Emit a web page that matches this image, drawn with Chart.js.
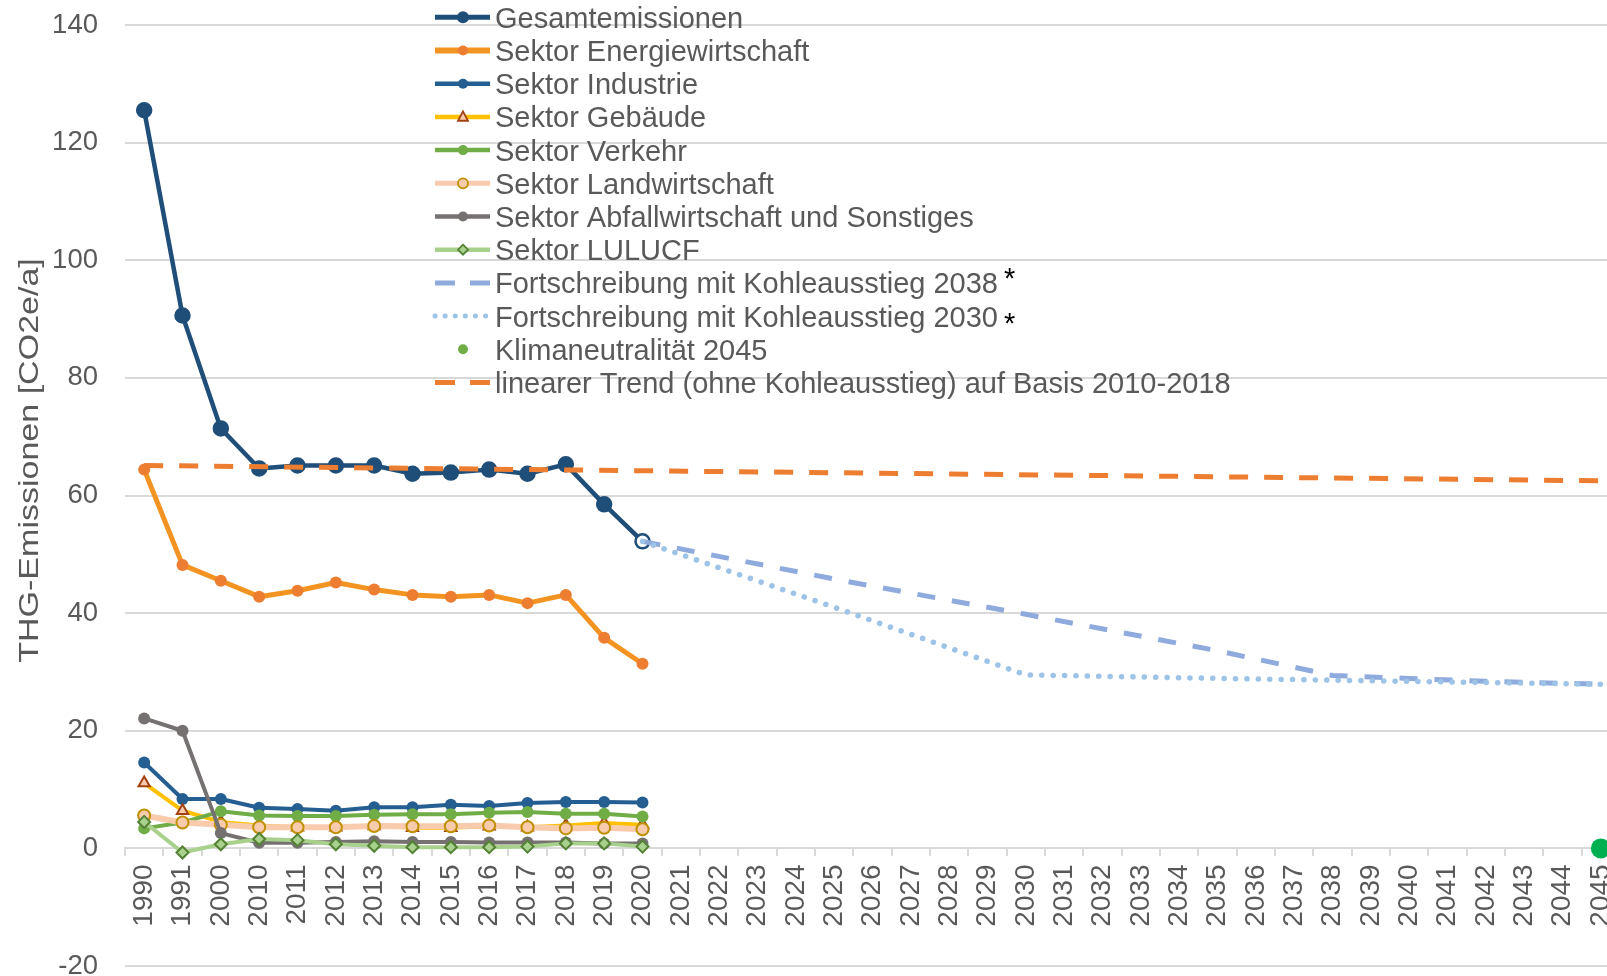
<!DOCTYPE html>
<html><head><meta charset="utf-8">
<script src="https://cdn.jsdelivr.net/npm/chart.js@4/dist/chart.umd.min.js"></script>
<style>
html,body{margin:0;padding:0;overflow:hidden;background:#fff;width:1607px;height:976px}
#wrap{position:absolute;left:0;top:0;width:1632px;height:976px}
canvas{display:block}
</style></head><body>
<div id="wrap"><canvas id="c" width="1632" height="976" style="width:1632px;height:976px"></canvas></div>
<script>
// ---- data ----
const categories = ['1990','1991','2000','2010','2011','2012','2013','2014','2015','2016','2017','2018','2019','2020',
  '2021','2022','2023','2024','2025','2026','2027','2028','2029','2030','2031','2032','2033','2034','2035','2036',
  '2037','2038','2039','2040','2041','2042','2043','2044','2045'];
const yTicks = [-20, 0, 20, 40, 60, 80, 100, 120, 140];
const yTitle = 'THG-Emissionen [CO2e/a]';

// 1990 .. 2020 (14 values)
const gesamt        = [125.5, 90.6, 71.4, 64.6, 65.1, 65.1, 65.1, 63.7, 63.9, 64.4, 63.7, 65.3, 58.5, 52.2];
const energie       = [64.4, 48.2, 45.5, 42.8, 43.8, 45.2, 44.0, 43.1, 42.8, 43.1, 41.7, 43.1, 35.8, 31.4];
const industrie     = [14.6, 8.4, 8.4, 6.9, 6.7, 6.4, 7.0, 7.0, 7.4, 7.2, 7.7, 7.9, 7.9, 7.8];
const gebaeude      = [11.1, 6.4, 4.5, 3.9, 3.6, 3.6, 3.8, 3.5, 3.5, 3.75, 3.6, 3.9, 4.3, 4.0];
const verkehr       = [3.4, 4.4, 6.3, 5.6, 5.5, 5.5, 5.7, 5.8, 5.8, 6.05, 6.2, 5.9, 5.9, 5.4];
const landwirtschaft= [5.6, 4.4, 4.0, 3.6, 3.6, 3.6, 3.8, 3.75, 3.75, 3.9, 3.6, 3.4, 3.5, 3.25];
const abfall        = [22.1, 20.0, 2.6, 0.95, 0.95, 1.1, 1.2, 1.1, 1.1, 1.0, 1.0, 1.0, 0.85, 0.85];
const lulucf        = [4.5, -0.7, 0.7, 1.6, 1.4, 0.7, 0.45, 0.2, 0.2, 0.2, 0.3, 0.85, 0.85, 0.3];

const fort2038Years  = ['2020','2025','2030','2035','2038','2040','2042','2045'];
const fort2038Values = [52.2, 45.8, 39.8, 33.6, 29.4, 28.9, 28.4, 27.9];
const fort2030Years  = ['2020','2025','2030','2035','2038','2045'];
const fort2030Values = [52.2, 41.0, 29.5, 28.9, 28.6, 27.9];
const klimaYears  = ['2045'];
const klimaValues = [0];
const trendYears  = ['1990','2045'];
const trendValues = [65.1, 62.5];

const FONT = "'Liberation Sans', Arial, sans-serif";
const TXT = '#595959';

function pts(xs, ys){ return xs.map((x,i)=>({x:x, y:ys[i]})); }

const datasets = [
  {label:'Gesamtemissionen', data:gesamt, borderColor:'#1F4E79', borderWidth:4.5,
   pointRadius:7, pointBorderWidth:2.5, pointBorderColor:'#1F4E79',
   pointBackgroundColor: gesamt.map((v,i)=> i===gesamt.length-1 ? '#ffffff' : '#1F4E79'),
   legend:{lw:5, r:6, fill:'#1F4E79', stroke:'#1F4E79', style:'circle'}},
  {label:'Sektor Energiewirtschaft', data:energie, borderColor:'#F39422', borderWidth:5,
   pointRadius:6, pointBorderWidth:0, pointBackgroundColor:'#ED7D31', pointBorderColor:'#ED7D31',
   legend:{lw:6, r:5, fill:'#ED7D31', stroke:'#ED7D31', style:'circle'}},
  {label:'Sektor Industrie', data:industrie, borderColor:'#255E91', borderWidth:4,
   pointRadius:6, pointBorderWidth:0, pointBackgroundColor:'#255E91', pointBorderColor:'#255E91',
   legend:{lw:4.5, r:5, fill:'#255E91', stroke:'#255E91', style:'circle'}},
  {label:'Sektor Gebäude', data:gebaeude, borderColor:'#FFC000', borderWidth:4,
   pointStyle:'triangle', pointRadius:6.5, pointBorderWidth:2, pointBackgroundColor:'#F8CBAD', pointBorderColor:'#A3410E',
   legend:{lw:4.5, r:5.5, fill:'#F8CBAD', stroke:'#A3410E', style:'triangle'}},
  {label:'Sektor Verkehr', data:verkehr, borderColor:'#70AD47', borderWidth:4,
   pointRadius:6, pointBorderWidth:0, pointBackgroundColor:'#70AD47', pointBorderColor:'#70AD47',
   legend:{lw:4.5, r:5, fill:'#70AD47', stroke:'#70AD47', style:'circle'}},
  {label:'Sektor Landwirtschaft', data:landwirtschaft, borderColor:'#F8CBAD', borderWidth:6,
   pointRadius:6, pointBorderWidth:2, pointBackgroundColor:'#F8CBAD', pointBorderColor:'#BF9000',
   legend:{lw:5, r:5, fill:'#F8CBAD', stroke:'#BF9000', style:'circle'}},
  {label:'Sektor Abfallwirtschaft und Sonstiges', data:abfall, borderColor:'#767171', borderWidth:4,
   pointRadius:6, pointBorderWidth:0, pointBackgroundColor:'#767171', pointBorderColor:'#767171',
   legend:{lw:4.5, r:5, fill:'#767171', stroke:'#767171', style:'circle'}},
  {label:'Sektor LULUCF', data:lulucf, borderColor:'#A9D18E', borderWidth:4,
   pointStyle:'rectRot', pointRadius:6, pointBorderWidth:2, pointBackgroundColor:'#A9D18E', pointBorderColor:'#548235',
   legend:{lw:4.5, r:5, fill:'#A9D18E', stroke:'#548235', style:'rectRot'}},
  {label:'Fortschreibung mit Kohleausstieg 2038', data:pts(fort2038Years, fort2038Values), borderColor:'#8FAADC', borderWidth:5,
   borderDash:[18,17], pointRadius:0, star:'up',
   legend:{lw:5, dash:[20,15], r:0}},
  {label:'Fortschreibung mit Kohleausstieg 2030', data:pts(fort2030Years, fort2030Values), borderColor:'#9DC3E6', borderWidth:5.5,
   borderDash:[0.1,11.3], borderCapStyle:'round', pointRadius:0, star:'down',
   legend:{lw:5, dash:[0.1,10], cap:'round', r:0}},
  {label:'Klimaneutralität 2045', data:pts(klimaYears, klimaValues), showLine:false, borderColor:'#00B050',
   pointRadius:10, pointBorderWidth:0, pointBackgroundColor:'#00B050',
   legend:{noLine:true, r:5, fill:'#70AD47', stroke:'#70AD47', style:'circle'}},
  {label:'linearer Trend (ohne Kohleausstieg) auf Basis 2010-2018', data:pts(trendYears, trendValues), borderColor:'#ED7D31', borderWidth:5,
   borderDash:[19,16], pointRadius:0,
   legend:{lw:5, dash:[20,15], r:0}}
];
datasets.forEach((d,i)=>{ d.order = datasets.length - i; d.tension = 0; d.fill = false; d.pointHoverRadius = d.pointRadius; });

function marker(ctx, style, x, y, r, fill, stroke, lw){
  ctx.beginPath();
  if (style === 'triangle'){
    ctx.moveTo(x, y - r); ctx.lineTo(x + r*0.9, y + r*0.7); ctx.lineTo(x - r*0.9, y + r*0.7); ctx.closePath();
  } else if (style === 'rectRot'){
    ctx.moveTo(x, y - r); ctx.lineTo(x + r, y); ctx.lineTo(x, y + r); ctx.lineTo(x - r, y); ctx.closePath();
  } else {
    ctx.arc(x, y, r, 0, Math.PI*2);
  }
  ctx.fillStyle = fill; ctx.fill();
  if (lw){ ctx.lineWidth = lw; ctx.strokeStyle = stroke; ctx.stroke(); }
}

const legendPlugin = {
  id:'customLegend',
  afterDraw(chart){
    const ctx = chart.ctx;
    const x0 = 435, x1 = 490, mx = 463, tx = 495, y0 = 17.3, dy = 33.2;
    chart.data.datasets.forEach((ds, i) => {
      const L = ds.legend, y = y0 + i*dy;
      ctx.save();
      if (!L.noLine){
        ctx.strokeStyle = ds.borderColor; ctx.lineWidth = L.lw;
        ctx.setLineDash(L.dash || []); ctx.lineCap = L.cap || 'butt';
        ctx.beginPath(); ctx.moveTo(x0, y); ctx.lineTo(x1, y); ctx.stroke();
      }
      ctx.setLineDash([]);
      if (L.r){ marker(ctx, L.style, mx, y, L.r, L.fill, L.stroke, (L.style==='triangle'||L.style==='rectRot'||L.stroke!==L.fill)?1.8:0); }
      ctx.font = '29px ' + FONT; ctx.fillStyle = TXT; ctx.textAlign = 'left'; ctx.textBaseline = 'alphabetic';
      ctx.fillText(ds.label, tx, y + 10.4);
      if (ds.star){
        const w = ctx.measureText(ds.label).width;
        ctx.fillStyle = '#000'; ctx.font = '29px ' + FONT;
        ctx.fillText('*', tx + w + 6, ds.star === 'up' ? y + 5 : y + 17);
      }
      ctx.restore();
    });
    // y-axis title (stretched along its length like the reference)
    ctx.save();
    ctx.translate(28.5, 460.5);
    ctx.rotate(-Math.PI/2);
    ctx.scale(1.26, 1);
    ctx.font = '27px ' + FONT; ctx.fillStyle = TXT; ctx.textAlign = 'center'; ctx.textBaseline = 'alphabetic';
    ctx.fillText(yTitle, 0, 9.7);
    ctx.restore();
  }
};

new Chart(document.getElementById('c'), {
  type:'line',
  data:{labels:categories, datasets:datasets},
  plugins:[legendPlugin],
  options:{
    responsive:false, animation:false, maintainAspectRatio:false,
    layout:{padding:{top:25, right:12, bottom:9.3, left:0}},
    plugins:{legend:{display:false}, tooltip:{enabled:false}},
    elements:{line:{borderJoinStyle:'round'}},
    scales:{
      y:{
        type:'linear', position:'left', min:-20, max:140,
        afterBuildTicks(s){ s.ticks = yTicks.map(v=>({value:v})); },
        afterFit(s){ s.width = 125; s.paddingTop = 0; s.paddingBottom = 0; },
        ticks:{font:{family:FONT, size:27.5}, color:TXT, padding:27},
        grid:{color:'#D9D9D9', lineWidth:2, drawTicks:false},
        border:{display:false},
        title:{display:false}
      },
      x:{
        type:'category', position:{y:0}, offset:true,
        afterFit(s){ s.paddingLeft = 0; s.paddingRight = 0; },
        ticks:{font:{family:FONT, size:28}, color:TXT, minRotation:90, maxRotation:90, autoSkip:false, padding:9},
        grid:{offset:true, drawOnChartArea:false, drawTicks:true, tickLength:7, color:'#D9D9D9', lineWidth:2},
        border:{display:true, color:'#D9D9D9', width:2}
      }
    }
  }
});
</script>
</body></html>
